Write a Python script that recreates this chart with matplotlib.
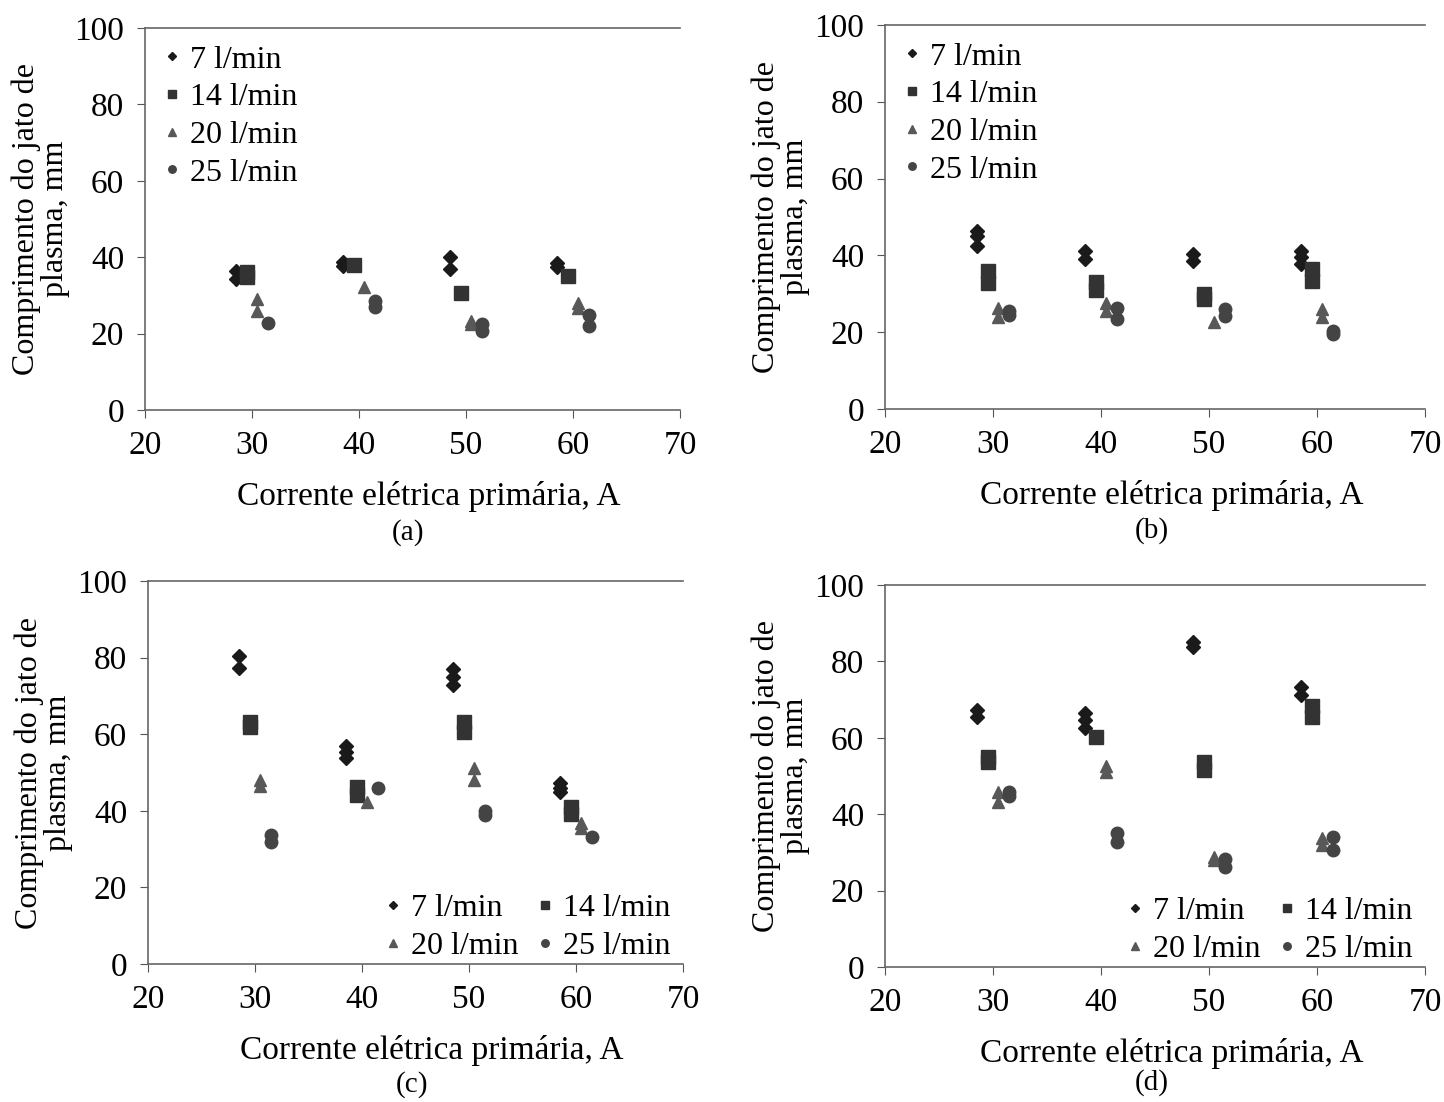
import matplotlib.pyplot as plt
import numpy as np

plt.rcParams['font.family'] = ['Liberation Serif', 'DejaVu Serif']

# Corrente (A) por serie: 7 l/min em I-1.5, 14 em I-0.5, 20 em I+0.5, 25 em I+1.5
series = ['7 l/min', '14 l/min', '20 l/min', '25 l/min']
x_off = {'7 l/min': -1.5, '14 l/min': -0.5, '20 l/min': 0.5, '25 l/min': 1.5}
currents = [30, 40, 50, 60]

# Comprimento do jato (mm), por painel, serie e corrente
data_a = {
    '7 l/min':  [[36.3, 34.3], [38.8, 37.8], [40.0, 37.0], [38.5, 37.3]],
    '14 l/min': [[36.2, 34.8], [38.0], [30.5], [35.0]],
    '20 l/min': [[29.1, 26.0], [32.2], [23.3, 22.4], [27.9, 26.7]],
    '25 l/min': [[22.8], [28.6, 27.0], [22.5, 20.6], [24.8, 22.1]],
}
data_b = {
    '7 l/min':  [[46.3, 45.0, 42.5], [41.0, 39.0], [40.4, 38.6], [41.0, 39.5, 37.8]],
    '14 l/min': [[36.0, 32.8], [33.0, 31.0], [30.0, 28.5], [36.5, 33.4]],
    '20 l/min': [[26.3, 23.9], [27.6, 25.6], [22.6], [26.0, 23.9]],
    '25 l/min': [[25.4, 24.5], [26.3, 23.4], [26.0, 24.3], [20.3, 19.5]],
}
data_c = {
    '7 l/min':  [[80.5, 77.2], [57.0, 55.4, 53.8], [77.0, 75.0, 72.8], [47.2, 45.9, 44.8]],
    '14 l/min': [[63.3, 62.0], [46.3, 44.1], [63.3, 60.7], [41.1, 39.3]],
    '20 l/min': [[48.0, 46.5], [42.2], [51.1, 48.0], [36.7, 35.4]],
    '25 l/min': [[33.7, 31.9], [45.9], [40.0, 38.9], [33.2]],
}
data_d = {
    '7 l/min':  [[67.3, 65.5], [66.6, 64.6, 62.5], [85.0, 83.8], [73.2, 71.2]],
    '14 l/min': [[55.0, 53.7], [60.3], [53.7, 51.6], [68.4, 65.5]],
    '20 l/min': [[45.7, 43.3], [52.7, 51.1], [28.9, 28.0], [33.7, 31.9]],
    '25 l/min': [[45.9, 44.8], [35.2, 32.8], [28.2, 26.3], [34.1, 30.6]],
}

markers = {'7 l/min': 'D', '14 l/min': 's', '20 l/min': '^', '25 l/min': 'o'}
msizes = {'7 l/min': 7.5, '14 l/min': 9.5, '20 l/min': 8.5, '25 l/min': 9}
colors = {'7 l/min': '#1a1a1a', '14 l/min': '#333333', '20 l/min': '#585858', '25 l/min': '#444444'}

fig = plt.figure(figsize=(14.44, 11.02), dpi=100)
positions = [
    (0.1004, 0.628, 0.3705, 0.3466),
    (0.6129, 0.6289, 0.3740, 0.3485),
    (0.1025, 0.1252, 0.3705, 0.3475),
    (0.6129, 0.1225, 0.3740, 0.3466),
]
panels = [data_a, data_b, data_c, data_d]
letters = ['(a)', '(b)', '(c)', '(d)']
letter_xy = [(408, 533), (1152, 531), (412, 1085), (1152, 1083)]

for k, (pos, data, letter) in enumerate(zip(positions, panels, letters)):
    ax = fig.add_axes(pos)
    handles = {}
    for s in series:
        xs, ys = [], []
        for I, vals in zip(currents, data[s]):
            for v in vals:
                xs.append(I + x_off[s])
                ys.append(v)
        h, = ax.plot(xs, ys, linestyle='none', marker=markers[s], ms=msizes[s],
                     color=colors[s], mec=colors[s], label=s)
        handles[s] = h
    ax.set_xlim(20, 70)
    ax.set_ylim(0, 100)
    ax.set_xticks(np.arange(20, 71, 10))
    ax.set_yticks(np.arange(0, 101, 20))
    ax.tick_params(labelsize=24, direction='out', length=6, color='#555555', pad=9)
    for sp in ['left', 'bottom', 'top']:
        ax.spines[sp].set_color('#666666')
        ax.spines[sp].set_linewidth(1.2)
    ax.spines['right'].set_visible(False)
    ax.set_ylabel('Comprimento do jato de\nplasma, mm', fontsize=23, linespacing=1.0, labelpad=3)
    ax.set_xlabel('Corrente elétrica primária, A', fontsize=24, labelpad=14)
    ax.xaxis.label.set_x(0.53)
    lx, ly = letter_xy[k]
    fig.text(lx / 1444, 1 - ly / 1102, letter, ha='center', va='center', fontsize=21)
    if k < 2:
        ax.legend(loc='upper left', frameon=False, fontsize=23, markerscale=0.6,
                  handlelength=0.5, handletextpad=0.3, labelspacing=0.26,
                  borderaxespad=0.2, bbox_to_anchor=(0.0, 1.005))
    else:
        order = ['7 l/min', '20 l/min', '14 l/min', '25 l/min']
        ax.legend([handles[s] for s in order], order, loc='lower right', frameon=False,
                  fontsize=23, markerscale=0.6, ncol=2,
                  handlelength=0.5, handletextpad=0.3, labelspacing=0.25,
                  columnspacing=0.6, borderaxespad=0.0, bbox_to_anchor=(1.0, -0.025))

fig.savefig('out.png', dpi=100, facecolor='white')
